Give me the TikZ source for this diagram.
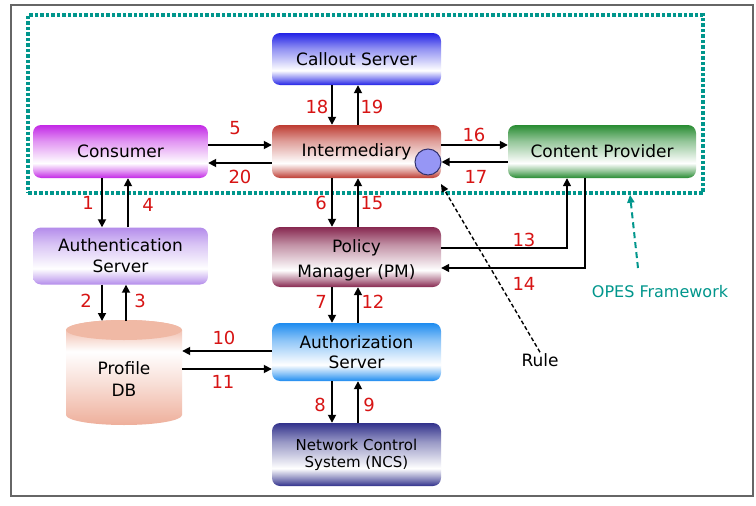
\documentclass[tikz,border=0pt]{standalone}
\usepackage{fontspec}
\setmainfont{DejaVu Sans}
\usetikzlibrary{arrows.meta}
\definecolor{cCallout}{RGB}{35,35,230}
\definecolor{cInter}{RGB}{190,60,50}
\definecolor{cCons}{RGB}{195,40,230}
\definecolor{cCont}{RGB}{40,140,50}
\definecolor{cPM}{RGB}{135,40,80}
\definecolor{cAuth}{RGB}{180,140,235}
\definecolor{cAuthz}{RGB}{30,140,240}
\definecolor{cNCS}{RGB}{50,50,140}
\definecolor{cDB}{RGB}{238,175,155}
\definecolor{cDBtop}{RGB}{240,185,165}
\definecolor{numred}{RGB}{215,20,20}
\definecolor{opesteal}{RGB}{0,150,140}
\definecolor{circfill}{RGB}{150,150,245}
\definecolor{circline}{RGB}{50,50,110}
\colorlet{boxc}{white}
\pgfdeclareverticalshading[boxc]{boxsh}{100bp}{color(0bp)=(boxc); color(25bp)=(boxc); color(31bp)=(boxc!55!white); color(39bp)=(white); color(60bp)=(boxc!50!white); color(75bp)=(boxc); color(100bp)=(boxc)}
\pgfdeclareverticalshading[boxc]{dbsh}{100bp}{color(0bp)=(boxc); color(25bp)=(boxc); color(45bp)=(boxc!40!white); color(60bp)=(white); color(68bp)=(boxc!60!white); color(75bp)=(boxc); color(100bp)=(boxc)}
\tikzset{
  box/.style={rounded corners=8pt, shade, shading=boxsh, align=center, inner sep=0pt,
    font=\fontsize{17}{20}\selectfont},
  sbox/.style={/utils/exec={\colorlet{boxc}{#1}}},
  arr/.style={line width=1.7pt, -{Triangle[length=8pt,width=8pt]}},
  thinarr/.style={line width=1.4pt, -{Triangle[length=8pt,width=8pt]}},
  num/.style={text=numred, font=\fontsize{18}{20}\selectfont, inner sep=0pt},
}
\begin{document}
\begin{tikzpicture}[x=1pt,y=-1pt]
\useasboundingbox (0,0) rectangle (756,506);
\fill[white] (0,0) rectangle (756,506);
\draw[black!60, line width=1.2pt] (11,5) rectangle (753,496);
% OPES framework dotted frame
\node[draw=opesteal, line width=3.5pt, dash pattern=on 3.5pt off 2pt, minimum width=675pt, minimum height=178pt, inner sep=0pt] (frame) at (365.5,104) {};
% boxes
\node[box, sbox=cCallout, minimum width=169pt, minimum height=52pt] (callout) at (356.5,59) {Callout Server};
\node[box, sbox=cInter, minimum width=169pt, minimum height=53pt] (inter) at (356.5,151.5) {Intermediary};
\node[box, sbox=cCons, minimum width=175pt, minimum height=53pt] (cons) at (120.5,151.5) {Consumer};
\node[box, sbox=cCont, minimum width=188pt, minimum height=53pt] (cont) at (602,151.5) {Content Provider};
\node[box, sbox=cAuth, minimum width=175pt, minimum height=57pt] (auth) at (120.5,256) {Authentication\\[1pt]Server};
\node[box, sbox=cPM, minimum width=169pt, minimum height=60pt] (pm) at (356.5,257) {\raisebox{-8pt}[0pt][0pt]{\begin{tabular}{@{}c@{}}Policy\\[5pt]Manager (PM)\end{tabular}}};
\node[box, sbox=cAuthz, minimum width=169pt, minimum height=58pt] (authz) at (356.5,352) {Authorization\\Server};
\node[box, sbox=cNCS, minimum width=169pt, minimum height=63pt, font=\fontsize{15}{17}\selectfont] (ncs) at (356.5,454.5) {Network Control\\System (NCS)};
% Profile DB cylinder
\shade[shading=dbsh, sbox=cDB] (66,330) -- (66,415) arc[start angle=180, end angle=0, x radius=58, y radius=10] -- (182,330) arc[start angle=0, end angle=-180, x radius=58, y radius=10] -- cycle;
\fill[cDBtop] (124,330) ellipse [x radius=58, y radius=10];
\node[align=center, inner sep=0pt, font=\fontsize{17}{22}\selectfont, minimum width=116pt] (db) at (124,379) {Profile\\DB};
\coordinate (dbtop) at (124,321);
% circle
\node[circle, minimum size=26pt, inner sep=0pt, fill=circfill, draw=circline, line width=1pt] (circ) at (428,162) {};
% arrows consumer-intermediary
\draw[arr] ([yshift=6.5pt]cons.east) -- ([yshift=6.5pt]inter.west);
\draw[arr] ([yshift=-11.5pt]inter.west) -- ([yshift=-11.5pt]cons.east);
% intermediary - content
\draw[arr] ([yshift=6.5pt]inter.east) -- ([yshift=6.5pt]cont.west);
\draw[arr] (cont.west |- circ.east) -- (circ.east);
% callout - intermediary
\draw[arr] ([xshift=-24.5pt]callout.south) -- ([xshift=-24.5pt]inter.north);
\draw[arr] ([xshift=1.5pt]inter.north) -- ([xshift=1.5pt]callout.south);
% intermediary - pm
\draw[arr] ([xshift=-24.5pt]inter.south) -- ([xshift=-24.5pt]pm.north);
\draw[arr] ([xshift=1.5pt]pm.north) -- ([xshift=1.5pt]inter.south);
% pm - authz
\draw[arr] ([xshift=-24.5pt]pm.south) -- ([xshift=-24.5pt]authz.north);
\draw[arr] ([xshift=1.5pt]authz.north) -- ([xshift=1.5pt]pm.south);
% authz - ncs
\draw[arr] ([xshift=-24.5pt]authz.south) -- ([xshift=-24.5pt]ncs.north);
\draw[arr] ([xshift=1.5pt]ncs.north) -- ([xshift=1.5pt]authz.south);
% consumer - auth
\draw[arr] ([xshift=-18.5pt]cons.south) -- ([xshift=-18.5pt]auth.north);
\draw[arr] ([xshift=7.5pt]auth.north) -- ([xshift=7.5pt]cons.south);
% auth - db
\draw[arr] ([xshift=-18.5pt]auth.south) -- ([xshift=-18.5pt]auth.south |- dbtop);
\draw[arr] ([xshift=5.5pt]auth.south |- dbtop) -- ([xshift=5.5pt]auth.south);
% authz - db
\draw[arr] ([yshift=1pt]authz.west) -- ([yshift=1pt]authz.west -| db.east);
\draw[arr] ([yshift=-17pt]authz.west -| db.east) -- ([yshift=-17pt]authz.west);
% pm - content
\draw[thinarr] ([yshift=9pt]pm.east) -| ([xshift=-35pt]cont.south);
\draw[thinarr] ([xshift=-17pt]cont.south) |- ([yshift=-11pt]pm.east);
% Rule
\node[font=\fontsize{17}{20}\selectfont, inner sep=1pt] (rule) at (540,360) {Rule};
\draw[line width=1.4pt, dash pattern=on 4pt off 2.5pt, -{Triangle[length=8pt,width=7pt]}, shorten >=12pt] (rule.north) -- (circ);
% OPES Framework
\node[text=opesteal, font=\fontsize{16}{19}\selectfont, inner sep=0pt] (opes) at (660,292) {OPES Framework};
\coordinate (opesfoot) at (638,268);
\draw[opesteal, line width=2pt, dash pattern=on 6pt off 4pt, -{Triangle[length=8pt,width=7pt]}] (opesfoot) -- (frame.south -| 630,0);
% labels
\node[num] (l5) at (235,128) {5};
\node[num] (l20) at (240,177) {20};
\node[num] (l18) at (317,107) {18};
\node[num] (l19) at (372,107) {19};
\node[num] (l1) at (88,203) {1};
\node[num] (l4) at (148,205) {4};
\node[num] (l6) at (321,203) {6};
\node[num] (l15) at (372,203) {15};
\node[num] (l16) at (474,135) {16};
\node[num] (l17) at (476,177) {17};
\node[num] (l13) at (524,240) {13};
\node[num] (l14) at (524,284) {14};
\node[num] (l2) at (86,301) {2};
\node[num] (l3) at (140,301) {3};
\node[num] (l7) at (321,302) {7};
\node[num] (l12) at (373,302) {12};
\node[num] (l10) at (224,338) {10};
\node[num] (l11) at (223,382) {11};
\node[num] (l8) at (320,405) {8};
\node[num] (l9) at (369,405) {9};
\end{tikzpicture}
\end{document}
